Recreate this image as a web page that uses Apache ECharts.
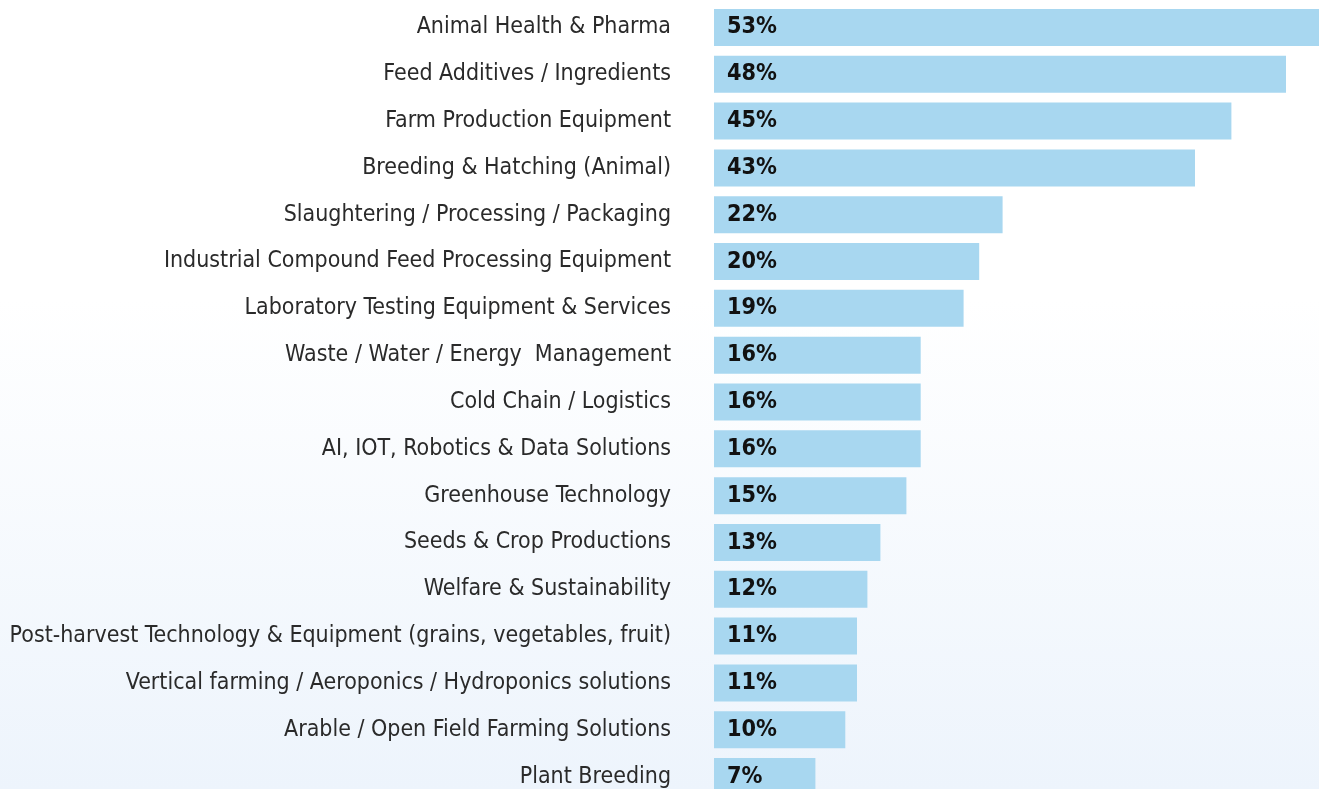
<!DOCTYPE html>
<html>
<head>
<meta charset="utf-8">
<script src="https://cdn.jsdelivr.net/npm/echarts@6/dist/echarts.min.js"></script>
<style>
html,body{margin:0;padding:0;width:1319px;height:789px;overflow:hidden;}
#c{width:1319px;height:789px;background:linear-gradient(to bottom,#ffffff 0%,#ffffff 38%,#edf4fc 100%);}
</style>
</head>
<body>
<div id="c"></div>
<script>
const categories = [
  "Animal Health & Pharma",
  "Feed Additives / Ingredients",
  "Farm Production Equipment",
  "Breeding & Hatching (Animal)",
  "Slaughtering / Processing / Packaging",
  "Industrial Compound Feed Processing Equipment",
  "Laboratory Testing Equipment & Services",
  "Waste / Water / Energy  Management",
  "Cold Chain / Logistics",
  "AI, IOT, Robotics & Data Solutions",
  "Greenhouse Technology",
  "Seeds & Crop Productions",
  "Welfare & Sustainability",
  "Post-harvest Technology & Equipment (grains, vegetables, fruit)",
  "Vertical farming / Aeroponics / Hydroponics solutions",
  "Arable / Open Field Farming Solutions",
  "Plant Breeding"
];
const barValues = [50, 44.0, 39.8, 37.0, 22.2, 20.4, 19.2, 15.9, 15.9, 15.9, 14.8, 12.8, 11.8, 11.0, 11.0, 10.1, 7.8];
const pctLabels = [53, 48, 45, 43, 22, 20, 19, 16, 16, 16, 15, 13, 12, 11, 11, 10, 7];

const FONT = "'Liberation Sans Narrow', 'DejaVu Sans Condensed', 'Noto Sans', sans-serif";

// size the category font so the widest label spans the same width as in the reference
const ctx = document.createElement('canvas').getContext('2d');
ctx.font = "25px " + FONT;
let maxW = 0;
categories.forEach(c => { maxW = Math.max(maxW, ctx.measureText(c).width); });
const catSize = Math.min(26, 25 * 662 / maxW);
ctx.font = "bold 25px " + FONT;
const pctW = ctx.measureText("53%").width;
const pctSize = Math.min(25, 25 * 50 / pctW);

const chart = echarts.init(document.getElementById('c'), null, {renderer: 'canvas'});
chart.setOption({
  backgroundColor: 'transparent',
  animation: false,
  grid: {left: 714, width: 650, top: 4, height: 796, containLabel: false, outerBoundsMode: 'none'},
  xAxis: {
    type: 'value', min: 0, max: 50, show: false
  },
  yAxis: {
    type: 'category', data: categories, inverse: true,
    axisLine: {show: false}, axisTick: {show: false}, splitLine: {show: false},
    axisLabel: {
      margin: 43, fontFamily: FONT, fontSize: catSize,
      color: '#2a2a2a'
    }
  },
  series: [{
    type: 'bar',
    data: barValues,
    barWidth: 37,
    itemStyle: {color: '#a8d7f0'},
    label: {
      show: true, position: 'insideLeft', distance: 13,
      fontFamily: FONT, fontWeight: 'bold', fontSize: pctSize,
      color: '#111111',
      formatter: p => pctLabels[p.dataIndex] + '%'
    }
  }]
});
</script>
</body>
</html>
